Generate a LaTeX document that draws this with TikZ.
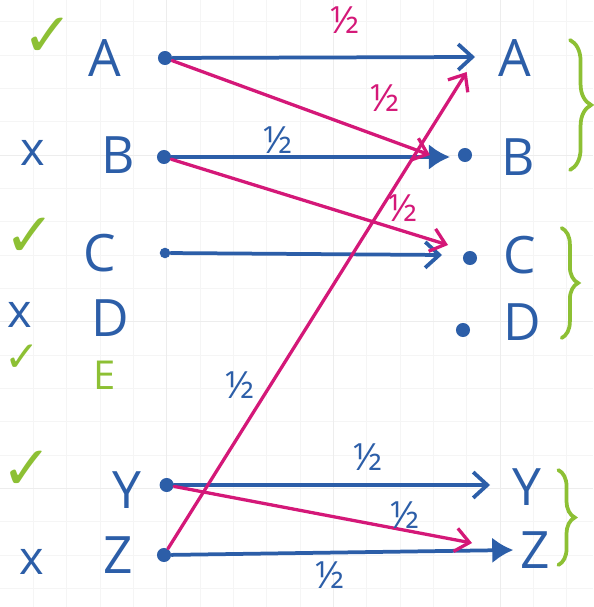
\documentclass[tikz,border=0pt]{standalone}
\usepackage{fontspec}
\setmainfont{Open Sans}
\newfontfamily\symfont{DejaVu Sans}
\usetikzlibrary{arrows.meta, decorations.pathreplacing}
\definecolor{penblue}{RGB}{44,94,168}
\definecolor{penpink}{RGB}{212,24,120}
\definecolor{pengreen}{RGB}{141,192,52}

\begin{document}
\begin{tikzpicture}[x=0.5cm, y=-0.5cm,
  letter/.style={text=penblue, font=\fontsize{22}{24}\selectfont},
  half/.style={font=\fontsize{16}{17}\selectfont, inner sep=0pt},
  tick/.style={text=pengreen, font=\symfont\fontsize{26}{28}\selectfont},
  cross/.style={text=penblue, font=\fontsize{20}{22}\selectfont},
  dot/.style={circle, fill=penblue, inner sep=0pt, minimum size=6pt},
  bluearr/.style={draw=penblue, line width=1.6pt, line cap=round,
    -{Straight Barb[length=6pt,width=11pt]}},
  bigarr/.style={draw=penblue, line width=1.6pt, line cap=round,
    -{Latex[length=9pt,width=11pt]}},
  pinkarr/.style={draw=penpink, line width=1.4pt, line cap=round,
    -{Straight Barb[length=6pt,width=10pt]}},
  curly/.style={draw=pengreen, line width=1.6pt, line cap=round,
    decorate, decoration={brace, amplitude=7pt}}]

  % Page and grid
  \useasboundingbox (0,0) rectangle (17.79,18.21);
  \fill[white] (0,0) rectangle (17.79,18.21);
  \foreach \x in {1,...,17}
    \draw[black!4] (\x,0) -- (\x,18.21);
  \foreach \y in {0.65,1.65,...,17.65}
    \draw[black!4] (0,\y) -- (17.79,\y);
  \foreach \x in {5,10,15}
    \draw[black!7] (\x,0) -- (\x,18.21);
  \foreach \y in {4.65,9.65,14.65}
    \draw[black!7] (0,\y) -- (17.79,\y);

  % Left column
  \node[letter] (lA) at (3.15,1.74) {A};
  \node[letter] (lB) at (3.54,4.65) {B};
  \node[letter] (lC) at (3.0,7.59) {C};
  \node[letter] (lD) at (3.3,9.54) {D};
  \node[letter, text=pengreen, font=\fontsize{17}{18}\selectfont] (lE) at (3.15,11.25) {E};
  \node[letter] (lY) at (3.81,14.7) {Y};
  \node[letter] (lZ) at (3.54,16.65) {Z};

  % Marks
  \node[tick] (kA) at (1.44,1.11) {✓};
  \node[cross] (xB) at (0.99,4.6) {x};
  \node[tick] (kC) at (0.9,7.11) {✓};
  \node[cross] (xD) at (0.6,9.45) {x};
  \node[tick, font=\symfont\fontsize{18}{20}\selectfont] (kE) at (0.66,10.74) {✓};
  \node[tick] (kY) at (0.81,14.1) {✓};
  \node[cross] (xZ) at (0.96,16.85) {x};

  % Start dots
  \node[dot] (sA) at (4.95,1.74) {};
  \node[dot] (sB) at (4.92,4.71) {};
  \node[dot, minimum size=4.5pt] (sC) at (4.95,7.59) {};
  \node[dot] (sY) at (5.0,14.55) {};
  \node[dot] (sZ) at (4.92,16.65) {};

  % Right column
  \node[letter] (rA) at (15.45,1.74) {A};
  \node[letter] (rB) at (15.54,4.71) {B};
  \node[letter] (rC) at (15.6,7.65) {C};
  \node[letter] (rD) at (15.66,9.66) {D};
  \node[letter] (rY) at (15.81,14.61) {Y};
  \node[letter] (rZ) at (16.05,16.5) {Z};
  \node[dot] (dB) at (13.95,4.65) {};
  \node[dot] (dC) at (14.1,7.74) {};
  \node[dot] (dD) at (13.89,9.9) {};

  % Arrow ends
  \coordinate (tA) at (14.25,1.71);
  \coordinate (tB) at (13.5,4.71);
  \coordinate (tC) at (13.26,7.65);
  \coordinate (tY) at (14.7,14.55);
  \coordinate (tZ) at (15.4,16.5);
  \coordinate (pB) at (12.9,4.65);
  \coordinate (pC) at (13.44,7.35);
  \coordinate (pA) at (14.0,2.16);
  \coordinate (pZ) at (14.16,16.29);

  % Blue arrows
  \draw[bluearr] (sA) -- (tA);
  \draw[bigarr] (sB) -- (tB);
  \draw[bluearr] (sC) -- (tC);
  \draw[bluearr] (sY) -- (tY);
  \draw[bigarr] (sZ) -- (tZ);

  % Pink arrows
  \draw[pinkarr] (sA) -- (pB);
  \draw[pinkarr] (sB) -- (pC);
  \draw[pinkarr] (sZ) -- (pA);
  \draw[pinkarr] (sY) -- (pZ);

  % Weights
  \node[half, text=penpink] (wAA) at (10.35,0.6) {½};
  \node[half, text=penpink] (wAB) at (11.55,2.94) {½};
  \node[half, text=penblue] (wBB) at (8.34,4.2) {½};
  \node[half, text=penpink] (wBC) at (12.09,6.24) {½};
  \node[half, text=penblue] (wZA) at (7.2,11.55) {½};
  \node[half, text=penblue] (wYY) at (11.04,13.71) {½};
  \node[half, text=penblue] (wYZ) at (12.15,15.45) {½};
  \node[half, text=penblue] (wZZ) at (9.9,17.25) {½};

  % Braces
  \draw[curly, decoration={amplitude=9pt}] (17.1,1.2) -- (17.1,5.1);
  \draw[curly] (16.85,6.84) -- (16.85,10.14);
  \draw[curly] (16.75,14.1) -- (16.75,16.95);
\end{tikzpicture}
\end{document}
